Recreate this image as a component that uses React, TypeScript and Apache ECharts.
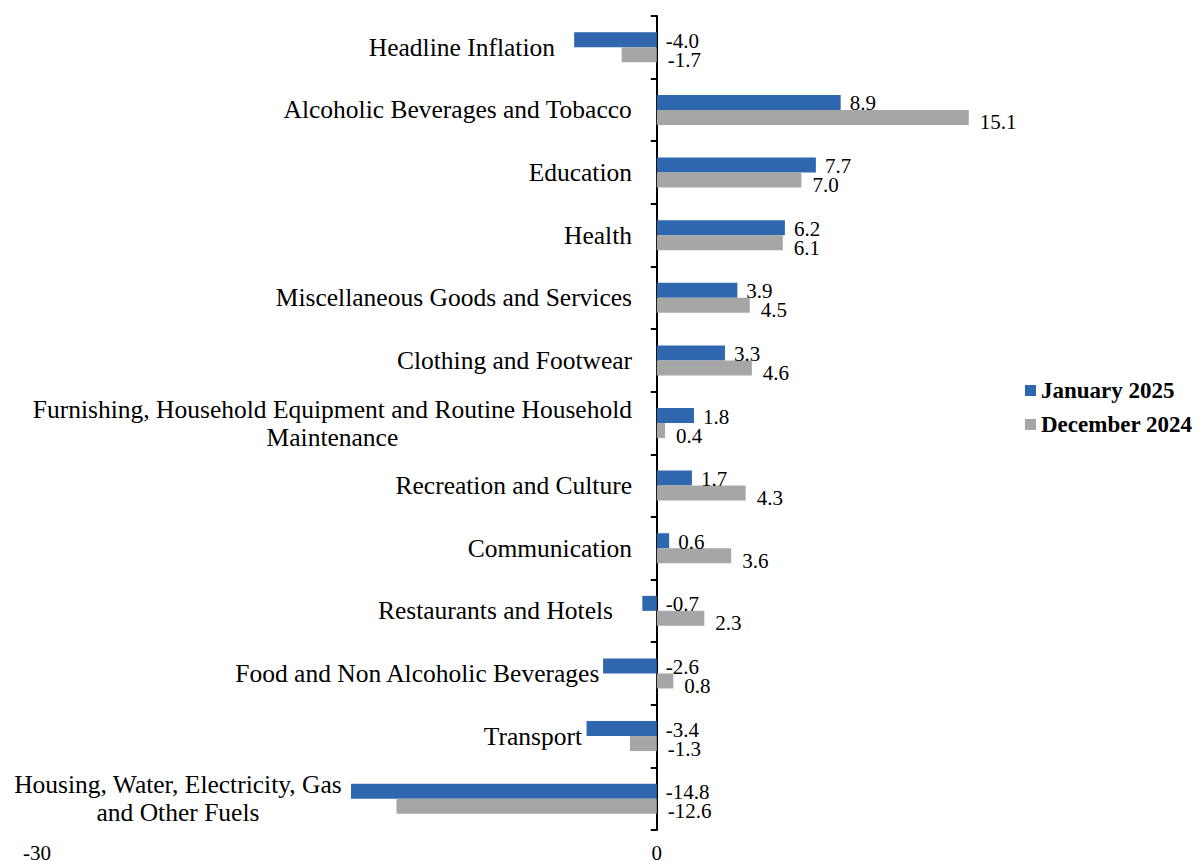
import React, { useEffect, useRef } from "react";
import * as echarts from "echarts";

const categories = [
  "Headline Inflation",
  "Alcoholic Beverages and Tobacco",
  "Education",
  "Health",
  "Miscellaneous Goods and Services",
  "Clothing and Footwear",
  "Furnishing, Household Equipment and Routine Household\nMaintenance",
  "Recreation and Culture",
  "Communication",
  "Restaurants and Hotels",
  "Food and Non Alcoholic Beverages",
  "Transport",
  "Housing, Water, Electricity, Gas\nand Other Fuels",
];

const january2025 = [-4.0, 8.9, 7.7, 6.2, 3.9, 3.3, 1.8, 1.7, 0.6, -0.7, -2.6, -3.4, -14.8];
const december2024 = [-1.7, 15.1, 7.0, 6.1, 4.5, 4.6, 0.4, 4.3, 3.6, 2.3, 0.8, -1.3, -12.6];

const seriesNames = ["January 2025", "December 2024"];
const xTickLabels = ["-30", "0"];

// extra right padding for category labels (layout only)
const labelExtraPad = [77, 0, 0, 0, 0, 0, 0, 0, 0, 19, 32, 50, 290];

const FONT = "'Liberation Serif', 'Times New Roman', serif";
const GRID_LEFT = 37;

export default function App() {
  const ref = useRef<HTMLDivElement>(null);

  useEffect(() => {
    if (!ref.current) return;
    const chart = echarts.init(ref.current, null, { renderer: "svg" });

    const rich: Record<string, any> = {};
    categories.forEach((_, i) => {
      rich["c" + i] = {
        fontFamily: FONT,
        fontSize: 25.5,
        color: "#000",
        lineHeight: 28,
        align: "center",
        padding: [0, labelExtraPad[i], 0, 0],
      };
    });

    const labelCommon = {
      show: true,
      position: "right" as const,
      fontFamily: FONT,
      fontSize: 21,
      color: "#000",
      formatter: (p: any) => Number(p.value).toFixed(1),
    };

    chart.setOption({
      animation: false,
      backgroundColor: "#fff",
      grid: {
        left: GRID_LEFT,
        right: 129,
        top: 16,
        bottom: 31,
        containLabel: false,
        outerBoundsMode: "none",
      },
      legend: {
        orient: "vertical",
        left: 1020,
        top: 374,
        itemWidth: 11,
        itemHeight: 11,
        itemGap: 11,
        icon: "rect",
        textStyle: { fontFamily: FONT, fontSize: 23, fontWeight: "bold", color: "#000" },
        data: seriesNames,
      },
      xAxis: {
        type: "value",
        min: -30,
        max: 20,
        interval: 30,
        axisLine: { show: false },
        axisTick: { show: false },
        splitLine: { show: false },
        axisLabel: {
          fontFamily: FONT,
          fontSize: 21,
          color: "#000",
          margin: 12,
          showMaxLabel: false,
          formatter: (v: number) => (xTickLabels.includes(String(v)) ? String(v) : ""),
        },
      },
      yAxis: {
        type: "category",
        inverse: true,
        data: categories,
        axisLine: { onZero: true, lineStyle: { color: "#000", width: 2 } },
        axisTick: { show: true, length: 6, lineStyle: { color: "#000", width: 2 } },
        axisLabel: {
          margin: GRID_LEFT - 632,
          interval: 0,
          align: "right",
          formatter: (value: string, index: number) =>
            value
              .split("\n")
              .map((l) => `{c${index}|${l}}`)
              .join("\n"),
          rich,
        },
      },
      series: [
        {
          name: seriesNames[0],
          type: "bar",
          data: january2025,
          barWidth: 15,
          barGap: "0%",
          itemStyle: { color: "#2E67AD" },
          label: { ...labelCommon, distance: 9, offset: [0, 1] },
        },
        {
          name: seriesNames[1],
          type: "bar",
          data: december2024,
          barWidth: 15,
          barGap: "0%",
          itemStyle: { color: "#A6A6A6" },
          label: { ...labelCommon, distance: 11, offset: [0, 5] },
        },
      ],
    });

    return () => chart.dispose();
  }, []);

  return (
    <div
      ref={ref}
      style={{ position: "fixed", left: 0, top: 0, width: 1199, height: 861 }}
    />
  );
}
